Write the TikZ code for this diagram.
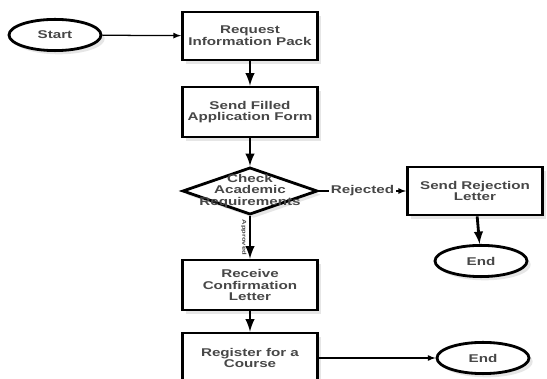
\documentclass[tikz,border=0pt]{standalone}
\usepackage{fontspec}
\setmainfont{Liberation Sans}[FakeStretch=1.35]
\usetikzlibrary{shapes.geometric,shadows}

\begin{document}
\begin{tikzpicture}[x=0.025cm,y=-0.025cm]
	\tikzstyle{step box}=[rectangle,draw=black,line width=2pt,fill=white,drop shadow={opacity=0.2},minimum width=3.375cm,minimum height=1.2cm,align=center,text=black!72,font=\bfseries\fontsize{8}{8.3}\selectfont]
	\tikzstyle{terminal}=[ellipse,draw=black,line width=2pt,fill=white,drop shadow={opacity=0.2},minimum width=2.3cm,minimum height=0.78cm,text=black!72,font=\bfseries\fontsize{8}{8.3}\selectfont]
	\tikzstyle{decision}=[diamond,draw=black,line width=2pt,fill=white,drop shadow={opacity=0.2},inner sep=0pt,minimum width=3.375cm,minimum height=1.18cm]
	\tikzstyle{flow}=[-latex,line width=2pt]
	\tikzstyle{thin flow}=[-latex,line width=0.9pt]
	\useasboundingbox (0,0) rectangle (547,379);
	\node[terminal](start) at (55,35) {Start};
	\node[step box,minimum height=1.2cm](request) at (250,36) {Request\\Information Pack};
	\node[step box,minimum height=1.25cm](send) at (250,112) {Send Filled\\Application Form};
	\node[decision,label={[align=center,text=black!72,font=\bfseries\fontsize{8}{8.3}\selectfont]center:Check\\Academic\\Requirements}](check) at (250,191) {};
	\node[step box](reject) at (475,191) {Send Rejection\\Letter};
	\node[terminal](end1) at (481,261) {End};
	\node[step box,minimum height=1.25cm](confirm) at (250,285) {Receive\\Confirmation\\Letter};
	\node[step box,minimum height=1.25cm](register) at (250,358) {Register for a\\Course};
	\node[terminal](end2) at (483,358) {End};
	\draw[thin flow](start) -- (request);
	\draw[flow](request) -- (send);
	\draw[flow](send) -- (check);
	\draw[thin flow](check) -- node[fill=white,font=\bfseries\fontsize{8}{8}\selectfont,text=black!72,inner sep=1pt]{Rejected} (reject);
	\draw[flow](reject) -- (end1);
	\draw[flow](check) -- node[rotate=-90,anchor=north,font=\bfseries\fontsize{4}{4}\selectfont,text=black!72,inner sep=1.5pt]{Approved} (confirm);
	\draw[flow](confirm) -- (register);
	\draw[thin flow](register) -- (end2);
\end{tikzpicture}
\end{document}
